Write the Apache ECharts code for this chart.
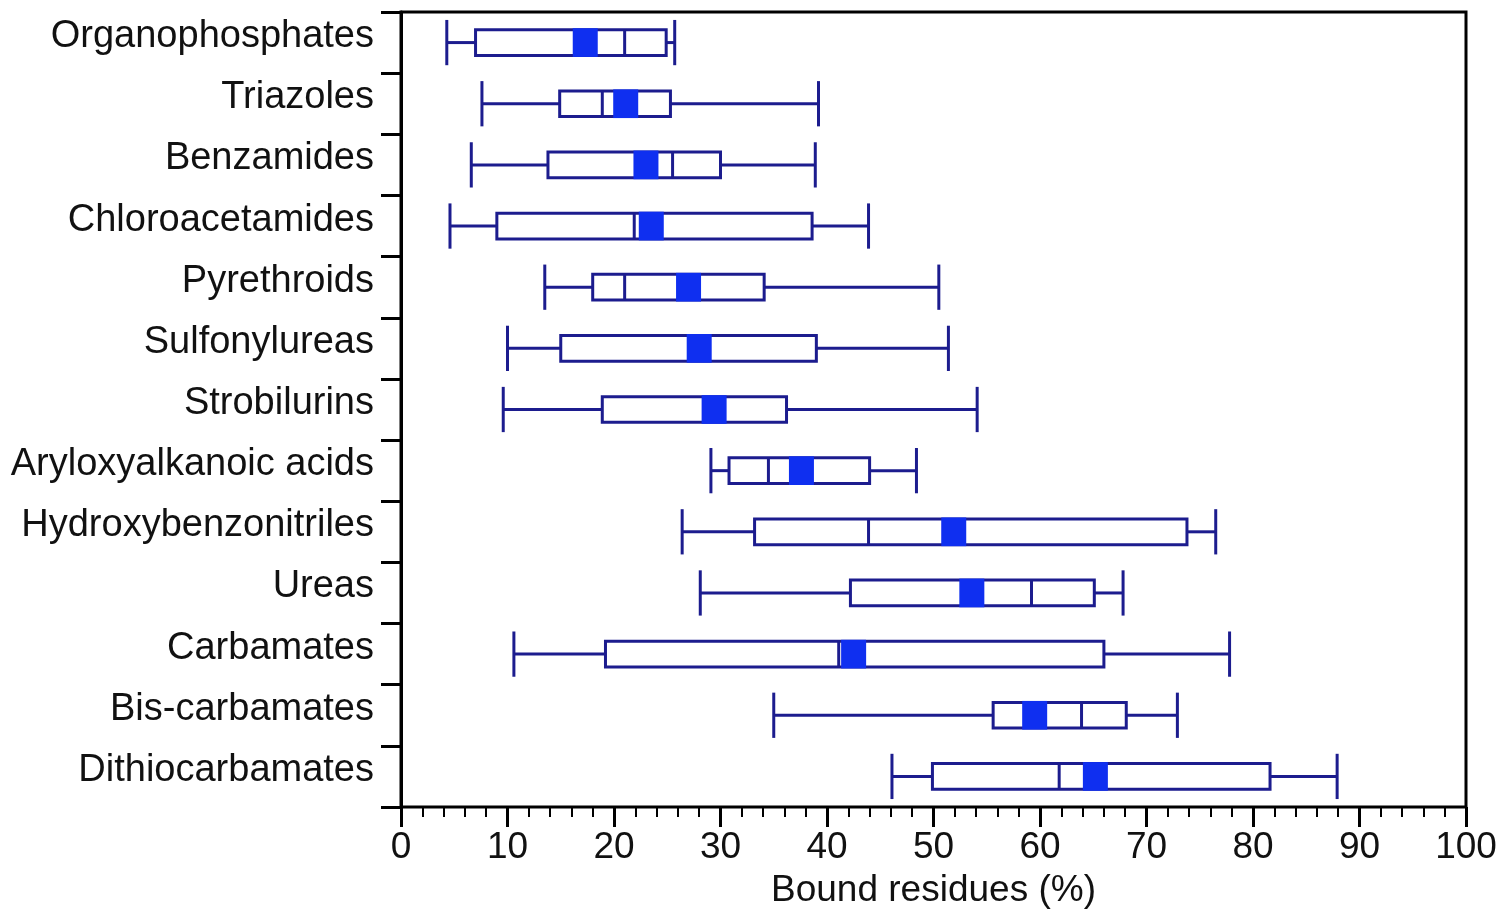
<!DOCTYPE html>
<html>
<head>
<meta charset="utf-8">
<style>
  html, body { margin: 0; padding: 0; background: #fff; }
  #chart { width: 1499px; height: 909px; }
</style>
<script src="https://cdn.jsdelivr.net/npm/echarts@6/dist/echarts.min.js"></script>
</head>
<body>
<div id="chart"></div>
<script>
// pesticide classes, top to bottom
var categories = ['Organophosphates', 'Triazoles', 'Benzamides', 'Chloroacetamides', 'Pyrethroids',
  'Sulfonylureas', 'Strobilurins', 'Aryloxyalkanoic acids', 'Hydroxybenzonitriles', 'Ureas',
  'Carbamates', 'Bis-carbamates', 'Dithiocarbamates'];
// bound residues (%)
var lowValues    = [4.3, 7.6, 6.6, 4.6, 13.5, 10.0, 9.6, 29.1, 26.4, 28.1, 10.6, 35.0, 46.1];
var q1Values     = [7.0, 14.9, 13.8, 9.0, 18.0, 15.0, 18.9, 30.8, 33.2, 42.2, 19.2, 55.6, 49.9];
var medianValues = [21.0, 18.9, 25.5, 21.9, 21.0, 28.0, 29.4, 34.5, 43.9, 59.2, 41.1, 63.9, 61.8];
var q3Values     = [24.9, 25.3, 30.0, 38.6, 34.1, 39.0, 36.2, 44.0, 73.8, 65.1, 66.0, 68.1, 81.6];
var highValues   = [25.7, 39.2, 38.9, 43.9, 50.5, 51.4, 54.1, 48.4, 76.5, 67.8, 77.8, 72.9, 87.9];
var meanValues   = [17.3, 21.1, 23.0, 23.5, 27.0, 28.0, 29.4, 37.6, 51.9, 53.6, 42.5, 59.5, 65.2];
var xTicks = [0, 10, 20, 30, 40, 50, 60, 70, 80, 90, 100];

var lineColor = '#1c1c8e';
var meanColor = '#0f2ff0';
var font = '"Liberation Sans", Arial, sans-serif';

var data = [];
for (var i = 0; i < categories.length; i++) {
  data.push([i, lowValues[i], q1Values[i], medianValues[i], q3Values[i], highValues[i], meanValues[i]]);
}

function renderItem(params, api) {
  var idx = api.value(0);
  var lo = api.coord([api.value(1), idx]);
  var q1 = api.coord([api.value(2), idx]);
  var med = api.coord([api.value(3), idx]);
  var q3 = api.coord([api.value(4), idx]);
  var hi = api.coord([api.value(5), idx]);
  var mean = api.coord([api.value(6), idx]);
  var band = api.size([0, 1])[1];
  var cy = lo[1];
  var boxH = band * 0.42;
  var capH = band * 0.74;
  var sq = 25;
  var ls = { stroke: lineColor, lineWidth: 3, fill: null };
  return {
    type: 'group',
    children: [
      { type: 'line', shape: { x1: lo[0], y1: cy, x2: q1[0], y2: cy }, style: ls },
      { type: 'line', shape: { x1: q3[0], y1: cy, x2: hi[0], y2: cy }, style: ls },
      { type: 'line', shape: { x1: lo[0], y1: cy - capH / 2, x2: lo[0], y2: cy + capH / 2 }, style: ls },
      { type: 'line', shape: { x1: hi[0], y1: cy - capH / 2, x2: hi[0], y2: cy + capH / 2 }, style: ls },
      { type: 'rect', shape: { x: q1[0], y: cy - boxH / 2, width: q3[0] - q1[0], height: boxH },
        style: { stroke: lineColor, lineWidth: 3, fill: '#fff' } },
      { type: 'line', shape: { x1: med[0], y1: cy - boxH / 2, x2: med[0], y2: cy + boxH / 2 }, style: ls },
      { type: 'rect', shape: { x: mean[0] - sq / 2, y: cy - boxH / 2 - 1.5, width: sq, height: boxH + 3 },
        style: { fill: meanColor } }
    ]
  };
}

var chart = echarts.init(document.getElementById('chart'));
var option = {
  backgroundColor: '#fff',
  animation: false,
  grid: {
    left: 401, right: 33, top: 12, bottom: 102,
    containLabel: false,
    outerBoundsMode: 'none',
    show: true, borderColor: '#000', borderWidth: 3
  },
  xAxis: {
    type: 'value',
    min: xTicks[0],
    max: xTicks[xTicks.length - 1],
    interval: 10,
    name: 'Bound residues (%)',
    nameLocation: 'middle',
    nameGap: 65,
    nameTextStyle: { fontFamily: font, fontSize: 37, color: '#111' },
    axisLine: { lineStyle: { color: '#000', width: 3 } },
    axisTick: { show: true, length: 20, lineStyle: { color: '#000', width: 3 } },
    minorTick: { show: true, splitNumber: 5, length: 10, lineStyle: { color: '#000', width: 2 } },
    splitLine: { show: false },
    axisLabel: { margin: 22, fontFamily: font, fontSize: 37, color: '#111' }
  },
  yAxis: {
    type: 'category',
    data: categories,
    inverse: true,
    axisLine: { lineStyle: { color: '#000', width: 3 } },
    axisTick: { show: true, length: 20, lineStyle: { color: '#000', width: 3 } },
    splitLine: { show: false },
    axisLabel: {
      margin: 27, fontFamily: font, fontSize: 38, color: '#111',
      verticalAlign: 'bottom', lineHeight: 12
    }
  },
  series: [{
    type: 'custom',
    renderItem: renderItem,
    encode: { x: [1, 2, 3, 4, 5, 6], y: 0 },
    data: data
  }]
};
chart.setOption(option);
</script>
</body>
</html>
